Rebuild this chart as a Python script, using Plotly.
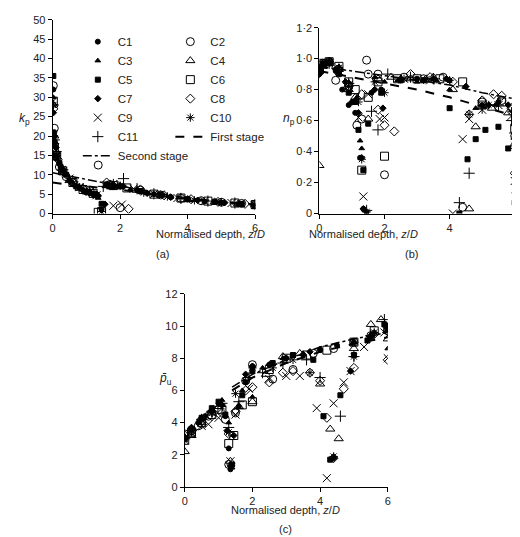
import plotly.graph_objects as go

# ---------------- data ----------------
series = ["C1","C2","C3","C4","C5","C6","C7","C8","C9","C10","C11"]
symbols = {"C1":"circle","C2":"circle-open","C3":"triangle-up","C4":"triangle-up-open",
           "C5":"square","C6":"square-open","C7":"diamond","C8":"diamond-open",
           "C9":"x-thin-open","C10":"asterisk-open","C11":"cross-thin-open"}
sizes = {"C1":5,"C2":8,"C3":5,"C4":8,"C5":5,"C6":8,"C7":5,"C8":7,"C9":8,"C10":7,"C11":8}

# panel (a): z/D, kp
kp = {
 "C1": ([0.02,0.05,0.1,0.2,0.3,0.5,0.7,0.9,1.1,1.3,1.45,1.6,1.8,2.0,2.5,3,3.5,4,4.5,5,5.5,6],
        [32,21,17,13,11,8.5,7,6,5.2,4.5,1,7.5,7.2,7,6,5,4.2,3.6,3.1,2.8,2.4,2.0]),
 "C2": ([0.02,0.05,0.1,0.2,0.4,0.6,1.0,1.35,1.7,2.0,2.6,3.2,3.8,4.4,5,5.6,6],
        [33,22,15,12,9.5,8,6,12.5,7.5,1.5,6,4.8,3.9,3.3,2.9,2.6,2.4]),
 "C3": ([0.02,0.06,0.12,0.25,0.4,0.6,0.8,1.0,1.2,1.35,1.6,1.9,2.3,2.8,3.5,4.2,5,5.6,6],
        [30,19,14,12,10,8,6.8,5.8,5,4,7,7,6.2,5.2,4.2,3.4,2.7,2.1,1.6]),
 "C4": ([0.02,0.05,0.1,0.3,0.5,0.8,1.1,1.3,1.6,2.0,2.5,3.2,4,4.8,5.5,6],
        [28,20,16,11,8.5,6.5,5.4,4.8,7.2,7,6,4.8,3.6,3.0,2.5,2.2]),
 "C5": ([0.02,0.05,0.1,0.2,0.4,0.7,1.0,1.25,1.45,1.6,2.0,2.6,3.2,4,4.8,5.6,6],
        [35.5,18,15,13,10,7,5.6,5,2.5,7.5,7,5.8,4.8,3.7,3,2.5,1.9]),
 "C6": ([0.02,0.05,0.12,0.3,0.6,0.9,1.2,1.35,1.45,1.8,2.2,3,3.8,4.6,5.4,6],
        [29,17,15,11,8,6.2,5.2,0.3,0.5,7.2,6.6,5,4,3.2,2.7,2.3]),
 "C7": ([0.02,0.06,0.1,0.25,0.5,0.8,1.1,1.35,1.55,1.8,2.1,2.8,3.5,4.3,5.1,6],
        [26,20,17,12,8.5,6.6,5.5,4.6,2.4,7.4,7,5.2,4.2,3.4,2.8,2.1]),
 "C8": ([0.02,0.05,0.15,0.3,0.6,0.9,1.2,1.6,1.9,2.25,2.6,3.3,4.1,4.9,5.7,6],
        [27,18,14,11,8,6.4,5.2,8,7.4,1.2,6.2,4.7,3.7,3.0,2.5,2.4]),
 "C9": ([0.02,0.05,0.12,0.3,0.5,0.8,1.1,1.3,1.8,2.05,2.4,3,3.7,4.5,5.3,6],
        [29,19,15,11,9,6.8,5.6,4.7,2,2.3,6.4,5,4,3.2,2.7,2.2]),
 "C10": ([0.02,0.06,0.12,0.3,0.5,0.8,1.1,1.3,1.45,1.7,2.0,2.7,3.4,4.2,5,6],
         [28,18,15,11.5,9,6.8,5.5,4.8,0.5,7.6,7.2,5.4,4.4,3.4,2.9,2.2]),
 "C11": ([0.02,0.05,0.1,0.3,0.6,0.9,1.2,1.5,1.8,2.1,2.5,3,3.8,4.6,5.4,6],
         [28,19,16,11.3,8.2,6.3,5.3,7,7.5,9,6.4,5.1,3.9,3.2,2.7,2.3]),
}
first_a = ([0,0.3,0.6,1,1.5,2,3,4,5,6],[8,7.6,7.3,7,6.6,6.2,4.8,3.7,2.9,2.2])
second_a = ([0,0.3,0.6,1,1.5,2,3,4,5,6],[10.5,10,9.5,8.8,8,7.2,5.4,4,3.1,2.4])

# panel (b): z/D, np
npv = {
 "C1": ([0,0.1,0.3,0.5,0.7,0.9,1.1,1.25,1.35,1.45,1.6,1.9,2.5,3,3.5,4,5,5.5,6],
        [0.9,0.96,0.97,0.92,0.8,0.7,0.65,0.36,0.03,0.01,0.78,0.8,0.86,0.87,0.87,0.86,0.7,0.72,0.48]),
 "C2": ([0,0.1,0.3,0.5,0.9,1.15,1.3,1.45,1.5,1.8,2.0,2.6,3.2,3.8,4.4,5,5.6,6],
        [0.92,0.97,0.98,0.86,0.82,0.57,0.61,0.99,0.9,0.9,0.25,0.88,0.87,0.88,0.04,0.72,0.73,0.5]),
 "C3": ([0,0.1,0.3,0.6,0.9,1.15,1.25,1.3,1.4,1.7,2.0,2.4,3,3.6,4,4.8,5.4,6],
        [0.93,0.96,0.98,0.95,0.85,0.75,0.47,0.42,0.02,0.88,0.85,0.86,0.85,0.86,0.8,0.68,0.7,0.14]),
 "C4": ([0,0.1,0.3,0.6,0.9,1.1,1.5,1.8,2.2,2.8,3.5,4.1,4.6,4.8,5.3,5.8,6],
        [0.31,0.95,0.97,0.93,0.8,0.75,0.61,0.87,0.88,0.87,0.88,0.8,0.03,0.56,0.68,0.65,0.45]),
 "C5": ([0,0.1,0.3,0.6,0.9,1.1,1.2,1.35,1.5,1.9,2.5,3.2,4,4.3,4.55,4.8,5.1,5.5,5.8,6],
        [0.94,0.97,0.97,0.9,0.78,0.72,0.54,0.28,0.58,0.78,0.86,0.86,0.68,0.0,0.35,0.48,0.54,0.56,0.42,0.07]),
 "C6": ([0,0.1,0.3,0.6,0.9,1.1,1.3,1.5,1.8,2.0,2.4,3,3.7,4.4,5,5.6,6],
        [0.93,0.97,0.98,0.95,0.85,0.8,0.28,0.75,0.85,0.37,0.87,0.87,0.87,0.85,0.7,0.72,0.55]),
 "C7": ([0,0.1,0.3,0.5,0.8,1.0,1.2,1.3,1.35,1.7,1.95,2.5,3.2,3.9,4.5,5.2,5.8,6],
        [0.9,0.96,0.98,0.93,0.85,0.72,0.65,0.36,0.03,0.8,0.68,0.87,0.86,0.87,0.82,0.7,0.7,0.42]),
 "C8": ([0,0.1,0.3,0.6,0.9,1.3,1.8,2.0,2.3,2.8,3.4,4.1,4.6,5,5.35,5.6,5.9,6],
        [0.92,0.96,0.98,0.93,0.82,0.77,0.67,0.57,0.53,0.9,0.88,0.85,0.64,0.73,0.77,0.76,0.68,0.26]),
 "C9": ([0,0.1,0.3,0.6,0.9,1.2,1.35,1.5,1.85,2.0,2.6,3.4,4.1,4.4,4.6,5,5.5,5.9,6],
        [0.93,0.96,0.97,0.92,0.83,0.62,0.11,0.77,0.61,0.62,0.87,0.86,0.0,0.48,0.61,0.67,0.7,0.63,0.21]),
 "C10": ([0,0.1,0.3,0.6,0.9,1.2,1.3,1.45,1.7,2.0,2.6,3.3,4,4.6,5.2,5.9,6],
         [0.92,0.96,0.98,0.94,0.82,0.72,0.35,0.01,0.85,0.78,0.87,0.87,0.86,0.64,0.7,0.66,0.48]),
 "C11": ([0,0.1,0.3,0.6,0.9,1.2,1.45,1.6,1.8,2.1,2.8,3.5,4.3,4.6,5,5.5,5.9,6],
         [0.91,0.96,0.97,0.93,0.84,0.74,0.02,0.66,0.54,0.9,0.88,0.87,0.07,0.26,0.68,0.7,0.6,0.52]),
}
first_b = ([0,1,2,3,4,5,6],[0.92,0.88,0.84,0.8,0.75,0.69,0.63])
second_b = ([0,1,2,3,4,5,6],[0.95,0.92,0.89,0.86,0.83,0.78,0.74])

# panel (c): z/D, normalised pu
pu = {
 "C1": ([0,0.2,0.4,0.6,0.8,1.0,1.2,1.3,1.35,1.6,1.8,2.0,2.5,3,3.5,4,4.5,5,5.5,6],
        [3,3.6,4,4.4,4.8,5.2,4.4,2.4,1.1,5,6.5,7.5,7.6,8,8.2,8.5,8.8,9,9.4,10]),
 "C2": ([0,0.2,0.4,0.7,1.0,1.2,1.3,1.5,1.8,2.0,2.6,3.2,3.8,4.4,5,5.5,6],
        [3.3,3.5,3.8,4.4,4.8,4.2,1.4,4.6,6.6,7.6,6.7,7.3,8.3,8.6,9,9.4,9.7]),
 "C3": ([0,0.2,0.5,0.8,1.1,1.3,1.4,1.7,2.0,2.3,2.6,2.9,3.2,3.5,4,5,5.6,6],
        [3,3.7,4.2,4.8,5.4,4.0,1.2,6,5.6,7.4,7.6,8.0,8.2,8.3,8.6,9.0,9.6,8.6]),
 "C4": ([0,0.2,0.5,0.8,1.0,1.35,1.6,2.0,2.4,2.9,3.4,4.0,4.3,4.55,5.0,5.5,5.8,6],
        [2.2,3.2,4,4.6,5,1.6,5,5.3,7,8.1,8.3,6.4,3.6,3.0,8.6,10.1,10.4,9.2]),
 "C5": ([0,0.2,0.5,0.8,1.0,1.2,1.4,1.7,2.0,2.6,3.2,3.8,4.1,4.3,4.6,5.0,5.4,5.9,6],
        [3,3.6,4.3,4.9,5.3,4.5,1.4,5.7,7.2,7.7,8.2,7.9,4.4,1.7,5.7,8.2,9.1,10.1,9.8]),
 "C6": ([0,0.2,0.5,0.8,1.1,1.3,1.45,1.7,2.0,2.5,3.0,3.6,4.2,5,5.6,6],
        [2.9,3.4,4.0,4.5,4.8,2.7,3.2,5.1,5.3,7.3,8,8.2,8.5,9,9.7,9.9]),
 "C7": ([0,0.2,0.5,0.8,1.1,1.25,1.35,1.45,1.8,2.0,2.5,3,3.7,4.4,4.9,5.5,6],
        [3.1,3.7,4.3,4.7,5.1,3.5,1.3,3.2,7,7.5,7.6,8,8.4,1.8,7.2,9.3,10]),
 "C8": ([0,0.2,0.5,0.8,1.1,1.3,1.5,1.8,2.0,2.5,2.9,3.2,3.7,4.0,4.2,4.4,4.7,5,5.6,6],
        [3.2,3.5,3.9,4.4,4.6,3.3,4.7,6,6.2,6.5,7.1,7.2,7.1,6.6,4.3,1.8,6.1,7.4,9.5,7.9]),
 "C9": ([0,0.2,0.5,0.7,1.0,1.35,1.5,1.9,2.5,3,3.4,3.9,4.2,4.4,4.7,4.9,5.3,5.9,6],
        [2.9,3.3,3.8,3.9,4.3,1.6,4.5,6.1,6.7,6.9,6.9,4.9,0.55,5.2,6.5,7.2,8.7,9.6,8]),
 "C10": ([0,0.2,0.5,0.8,1.1,1.3,1.5,1.8,2.0,2.6,3.2,3.7,4.4,5,5.6,6],
         [3,3.5,4.1,4.6,5,3.4,5.8,6.6,7.4,7.4,7.9,7.1,1.9,8.1,9.6,9.9]),
 "C11": ([0,0.2,0.5,0.8,1.1,1.3,1.6,1.9,2.3,2.9,3.6,4.0,4.6,5.0,5.5,5.9,6],
         [3,3.5,4.2,4.7,5.2,3.7,5.3,6.8,7.1,7.7,7.9,6.8,4.4,8.1,9.4,10.4,9.6]),
}
first_c = ([1.4,2,3,4,5,6],[6.0,6.8,7.7,8.4,8.9,9.3])
second_c = ([1.4,2,3,4,5,6],[6.2,7.0,7.9,8.7,9.2,9.6])

col1 = ["C1","C3","C5","C7","C9","C11"]

# ---------------- figure ----------------
fig = go.Figure()
axes = [("x","y",kp,first_a,second_a),("x2","y2",npv,first_b,second_b),("x3","y3",pu,first_c,second_c)]
for i,(xa,ya,data,f1,f2) in enumerate(axes):
    for s in series:
        xs,ys = data[s]
        fig.add_trace(go.Scatter(x=xs,y=ys,mode="markers",name=s,xaxis=xa,yaxis=ya,
            showlegend=(i==0),legend="legend" if s in col1 else "legend2",
            marker=dict(symbol=symbols[s],size=sizes[s],color="black",line=dict(color="black",width=1))))
    fig.add_trace(go.Scatter(x=f1[0],y=f1[1],mode="lines",name="First stage",xaxis=xa,yaxis=ya,
        showlegend=(i==0),legend="legend2",line=dict(color="black",width=2,dash="dash")))
    fig.add_trace(go.Scatter(x=f2[0],y=f2[1],mode="lines",name="Second stage",xaxis=xa,yaxis=ya,
        showlegend=(i==0),legend="legend",line=dict(color="black",width=1.5,dash="dashdot")))

axstyle = dict(showgrid=False,zeroline=False,showline=True,linecolor="black",linewidth=1,
               ticks="outside",ticklen=4,tickcolor="black",tickfont=dict(size=11,color="#222"))
xt = dict(range=[0,6],tickvals=[0,2,4,6],**axstyle)
legstyle = dict(orientation="v",xanchor="left",yanchor="top",font=dict(size=11.5),
                bgcolor="rgba(0,0,0,0)",tracegroupgap=0,itemwidth=30)
fig.update_layout(
    width=520,height=537,margin=dict(l=0,r=0,t=0,b=0),
    paper_bgcolor="white",plot_bgcolor="white",
    font=dict(family="Liberation Sans, Arial",color="#222"),
    xaxis=dict(domain=[0.081,0.475],anchor="y",**xt),
    yaxis=dict(domain=[0.62,0.989],anchor="x",range=[0,50],tickvals=list(range(0,55,5)),**axstyle),
    xaxis2=dict(domain=[0.6,0.98],anchor="y2",**xt),
    yaxis2=dict(domain=[0.62,0.974],anchor="x2",range=[0,1.2],tickvals=[0,0.2,0.4,0.6,0.8,1.0,1.2],
                ticktext=["0","0·2","0·4","0·6","0·8","1·0","1·2"],**axstyle),
    xaxis3=dict(domain=[0.338,0.733],anchor="y3",**xt),
    yaxis3=dict(domain=[0.099,0.467],anchor="x3",range=[0,12],tickvals=[0,2,4,6,8,10,12],**axstyle),
    legend=dict(x=0.13,y=0.975,**legstyle),
    legend2=dict(x=0.31,y=0.975,**legstyle),
)
ann = [
 (0.279,0.581,"Normalised depth, <i>z</i>/<i>D</i>"),(0.279,0.542,"(a)"),
 (0.795,0.581,"Normalised depth, <i>z</i>/<i>D</i>"),(0.795,0.542,"(b)"),
 (0.535,0.056,"Normalised depth, <i>z</i>/<i>D</i>"),(0.535,0.019,"(c)"),
]
for x,y,t in ann:
    fig.add_annotation(x=x,y=y,xref="paper",yref="paper",text=t,showarrow=False,font=dict(size=11),yanchor="middle")
fig.add_annotation(x=0.012,y=0.82,xref="paper",yref="paper",text="<i>k</i><sub>p</sub>",showarrow=False,font=dict(size=12))
fig.add_annotation(x=0.54,y=0.82,xref="paper",yref="paper",text="<i>n</i><sub>p</sub>",showarrow=False,font=dict(size=12))
fig.add_annotation(x=0.285,y=0.285,xref="paper",yref="paper",text="<i>p̄</i><sub>u</sub>",showarrow=False,font=dict(size=12))
fig.write_html("out.html")
